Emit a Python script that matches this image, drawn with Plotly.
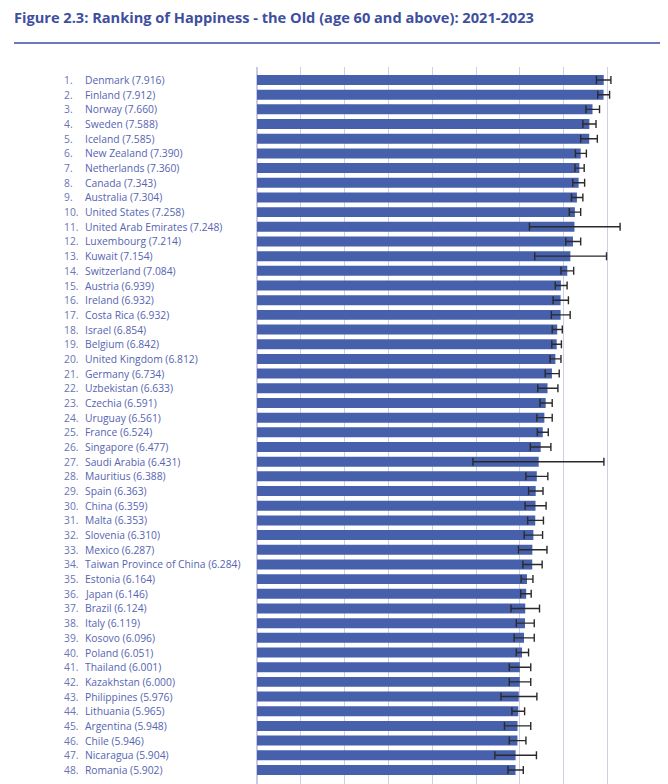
import plotly.graph_objects as go

countries = ["Denmark", "Finland", "Norway", "Sweden", "Iceland", "New Zealand", "Netherlands",
             "Canada", "Australia", "United States", "United Arab Emirates", "Luxembourg", "Kuwait",
             "Switzerland", "Austria", "Ireland", "Costa Rica", "Israel", "Belgium", "United Kingdom",
             "Germany", "Uzbekistan", "Czechia", "Uruguay", "France", "Singapore", "Saudi Arabia",
             "Mauritius", "Spain", "China", "Malta", "Slovenia", "Mexico", "Taiwan Province of China",
             "Estonia", "Japan", "Brazil", "Italy", "Kosovo", "Poland", "Thailand", "Kazakhstan",
             "Philippines", "Lithuania", "Argentina", "Chile", "Nicaragua", "Romania"]
scores = [7.916, 7.912, 7.660, 7.588, 7.585, 7.390, 7.360, 7.343, 7.304, 7.258, 7.248, 7.214,
          7.154, 7.084, 6.939, 6.932, 6.932, 6.854, 6.842, 6.812, 6.734, 6.633, 6.591, 6.561,
          6.524, 6.477, 6.431, 6.388, 6.363, 6.359, 6.353, 6.310, 6.287, 6.284, 6.164, 6.146,
          6.124, 6.119, 6.096, 6.051, 6.001, 6.000, 5.976, 5.965, 5.948, 5.946, 5.904, 5.902]
ci_low = [7.75, 7.78, 7.51, 7.44, 7.39, 7.27, 7.26, 7.21, 7.18, 7.13, 6.22, 7.05, 6.34, 6.94,
          6.81, 6.76, 6.72, 6.74, 6.73, 6.69, 6.58, 6.41, 6.46, 6.39, 6.40, 6.24, 4.93, 6.14,
          6.20, 6.12, 6.18, 6.10, 5.97, 6.07, 6.03, 6.02, 5.80, 5.92, 5.87, 5.92, 5.76, 5.76,
          5.57, 5.82, 5.65, 5.76, 5.43, 5.73]
ci_high = [8.08, 8.05, 7.82, 7.74, 7.77, 7.52, 7.47, 7.48, 7.44, 7.39, 8.29, 7.39, 7.98, 7.23,
           7.08, 7.11, 7.15, 6.97, 6.95, 6.94, 6.90, 6.87, 6.74, 6.74, 6.65, 6.71, 7.92, 6.64,
           6.53, 6.60, 6.54, 6.52, 6.62, 6.51, 6.30, 6.26, 6.45, 6.33, 6.33, 6.20, 6.25, 6.25,
           6.39, 6.11, 6.25, 6.14, 6.38, 6.08]
title_text = "Figure 2.3: Ranking of Happiness - the Old (age 60 and above): 2021-2023"

# page body has an 8px default margin; work in screen coords and shift
OFF = 8
SW, SH = 668, 784
W, H = SW, SH
ML = 257 - OFF
MR = W + OFF - 650
MT = 67 - OFF
MB = 0
plot_w = W - ML - MR
px_per_unit = 43.8
x_max = plot_w / px_per_unit

err_plus = [h - s for h, s in zip(ci_high, scores)]
err_minus = [s - l for l, s in zip(ci_low, scores)]

fig = go.Figure()
fig.add_trace(go.Bar(
    x=scores, y=countries, orientation="h",
    marker=dict(color="#4660ab", line=dict(width=0)),
    error_x=dict(type="data", symmetric=False, array=err_plus, arrayminus=err_minus,
                 color="#2a2a2a", thickness=1.4, width=4),
    hoverinfo="x+y",
))

label_font = dict(family="'Open Sans', sans-serif", size=10.3, color="#5664b2")
annotations = []
for i, (c, s) in enumerate(zip(countries, scores)):
    annotations.append(dict(
        x=(62 - 257) / plot_w, xref="paper", y=c, yref="y",
        text=f"{i + 1}.", showarrow=False, xanchor="left", yanchor="middle",
        font=dict(label_font, color="#6a74b4")))
    annotations.append(dict(
        x=(83 - 257) / plot_w, xref="paper", y=c, yref="y",
        text=f"{c} ({s:.3f})", showarrow=False, xanchor="left", yanchor="middle",
        font=label_font))

plot_h = H - MT - MB
row_px = 14.68
top_idx = -(80 - 67) / row_px
bot_idx = top_idx + plot_h / row_px

fig.update_layout(
    width=W, height=H,
    margin=dict(l=ML, r=MR, t=MT, b=MB),
    paper_bgcolor="white", plot_bgcolor="white",
    showlegend=False,
    bargap=0.32,
    title=dict(text=f"<b>{title_text}</b>", x=(14 - OFF) / W, xref="container", xanchor="left",
               y=1 - (18 - OFF) / H, yref="container", yanchor="middle",
               font=dict(family="'Open Sans', sans-serif", size=14.6, color="#3e4f9e")),
    xaxis=dict(range=[0, x_max], dtick=1, tick0=0, showticklabels=False, ticks="",
               showgrid=True, gridcolor="#cdcfe8", gridwidth=1,
               zeroline=True, zerolinecolor="#c9cbe6", zerolinewidth=1.5, fixedrange=True),
    yaxis=dict(type="category", categoryorder="array", categoryarray=countries,
               range=[bot_idx, top_idx], showticklabels=False, ticks="", showgrid=False,
               zeroline=False, fixedrange=True),
    annotations=annotations,
    shapes=[dict(type="line", xref="paper", yref="paper",
                 x0=(14 - 257) / plot_w, x1=(SW + 10 - 257) / plot_w,
                 y0=1 + (67 - 43) / plot_h, y1=1 + (67 - 43) / plot_h,
                 line=dict(color="#6b78bf", width=2))],
)

fig.write_html("out.html")
